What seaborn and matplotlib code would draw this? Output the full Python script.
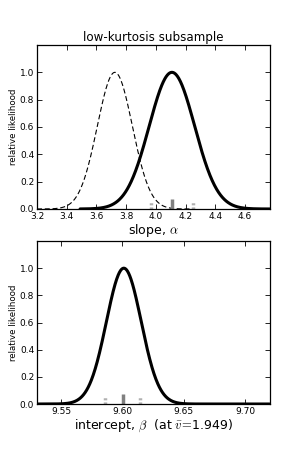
import numpy as np
import pandas as pd
import matplotlib
matplotlib.use("Agg")
import matplotlib.pyplot as plt
import seaborn as sns

# ---- data ----
# slope panel: two likelihood curves (peak position, width), drawn over x-ranges
slope_centers = [4.108, 3.724]          # solid, dashed
slope_widths = [0.153, 0.118]
slope_ranges = [(3.49, 4.77), (3.2, 4.25)]
slope_styles = ["solid", "dashed"]
slope_rug_center = [4.106]
slope_rug_err = [3.965, 4.252]
slope_ticks = [3.2, 3.4, 3.6, 3.8, 4.0, 4.2, 4.4, 4.6]
slope_xlim = (3.2, 4.768)

# intercept panel
int_centers = [9.6012]
int_widths = [0.0142]
int_ranges = [(9.530, 9.720)]
int_rug_center = [9.6005]
int_rug_err = [9.5855, 9.6140]
int_ticks = [9.55, 9.60, 9.65, 9.70]
int_xlim = (9.5304, 9.7204)

y_ticks = [0.0, 0.2, 0.4, 0.6, 0.8, 1.0]

sns.set_style("ticks")
plt.rcParams["font.family"] = ["DejaVu Sans"]
plt.rcParams["mathtext.fontset"] = "cm"
plt.rcParams["xtick.direction"] = "in"
plt.rcParams["ytick.direction"] = "in"
for k in ["text.color", "axes.labelcolor", "xtick.color", "ytick.color",
          "xtick.labelcolor", "ytick.labelcolor"]:
    plt.rcParams[k] = "black"

fig = plt.figure(figsize=(3.0, 4.5), dpi=100)
ax1 = fig.add_axes([0.1233, 0.5356, 0.7767, 0.3644])
ax2 = fig.add_axes([0.1233, 0.1022, 0.7767, 0.3622])


def curve_frame(center, width, xr):
    x = np.linspace(xr[0], xr[1], 600)
    y = np.exp(-0.5 * ((x - center) / width) ** 2)
    return pd.DataFrame({"x": x, "y": y})


def style_axes(ax, ticks, xlim):
    ax.set_xlim(*xlim)
    ax.set_ylim(0, 1.2)
    ax.set_xticks(ticks)
    ax.set_yticks(y_ticks)
    ax.tick_params(axis="both", which="both", top=True, right=True,
                   direction="in", length=3.5, width=0.6, labelsize=6.5,
                   pad=2, color="black", labelcolor="black")
    for s in ax.spines.values():
        s.set_color("black")
        s.set_linewidth(0.9)
        s.set_visible(True)
    ax.set_ylabel("relative likelihood", fontsize=6.2, labelpad=1.5, color="black")


for c, w, xr, ls in zip(slope_centers, slope_widths, slope_ranges, slope_styles):
    df = curve_frame(c, w, xr)
    if ls == "solid":
        sns.lineplot(data=df, x="x", y="y", ax=ax1, color="black", lw=2.2)
    else:
        sns.lineplot(data=df, x="x", y="y", ax=ax1, color="black", lw=0.8,
                     linestyle=(0, (4.5, 2.5)))

ax1.vlines(slope_rug_err, 0, 0.055, color="#b0b0b0", lw=2.5, linestyles=(0, (0.6, 0.6)))
ax1.vlines(slope_rug_center, 0, 0.075, color="#808080", lw=2.5)

for c, w, xr in zip(int_centers, int_widths, int_ranges):
    df = curve_frame(c, w, xr)
    sns.lineplot(data=df, x="x", y="y", ax=ax2, color="black", lw=2.2)

ax2.vlines(int_rug_err, 0, 0.055, color="#b0b0b0", lw=2.5, linestyles=(0, (0.6, 0.6)))
ax2.vlines(int_rug_center, 0, 0.075, color="#808080", lw=2.5)

style_axes(ax1, slope_ticks, slope_xlim)
style_axes(ax2, int_ticks, int_xlim)
ax1.set_xticklabels([f"{t:.1f}" for t in slope_ticks])
ax2.set_xticklabels([f"{t:.2f}" for t in int_ticks])
ax1.set_yticklabels([f"{t:.1f}" for t in y_ticks])
ax2.set_yticklabels([f"{t:.1f}" for t in y_ticks])

ax1.set_title("low-kurtosis subsample", fontsize=8.6, pad=3, color="black")
ax1.set_xlabel(r"slope, $\alpha$", fontsize=9, labelpad=1, color="black")
ax2.set_xlabel(r"intercept, $\beta$  (at $\bar{v}\!=\!$1.949)", fontsize=9,
               labelpad=1, color="black")

fig.savefig("out.png", dpi=100)
